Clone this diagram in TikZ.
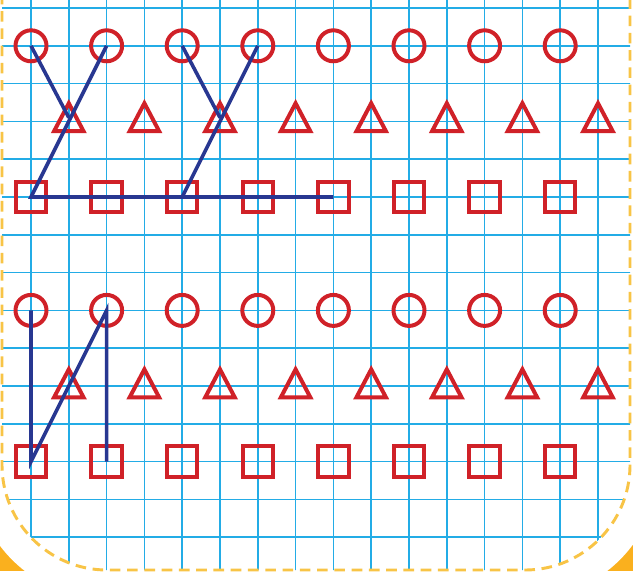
\documentclass[tikz,border=0pt]{standalone}
\usetikzlibrary{calc}
\definecolor{gridblue}{RGB}{35,172,230}
\definecolor{shapered}{RGB}{208,33,40}
\definecolor{stitchblue}{RGB}{40,55,145}
\definecolor{dashyellow}{RGB}{248,196,70}
\definecolor{cornerorange}{RGB}{250,176,30}

\begin{document}
\begin{tikzpicture}[
    ring/.style={circle, draw=shapered, line width=3pt, minimum size=0.82cm, inner sep=0pt},
    box/.style={rectangle, draw=shapered, line width=3pt, minimum size=0.8cm, inner sep=0pt},
    tri/.style={draw=shapered, line width=3pt},
    stitch/.style={draw=stitchblue, line width=2.7pt},
    gridline/.style={draw=gridblue, line width=1.3pt}]
    \useasboundingbox (-0.820,-0.900) rectangle (15.926,14.212);

    % card on the orange background
    \fill[cornerorange] (-0.820,-0.900) rectangle (15.926,14.212);
    \fill[white, rounded corners=3.55cm] (-1.537,-1.638) rectangle (16.617,17);

    \begin{scope}
        \clip[rounded corners=2.78cm] (-0.767,-0.868) rectangle (15.847,17);
        \draw[gridline] (-1,-1) grid (16,15);
    \end{scope}
    \draw[dashyellow, line width=2.2pt, dash pattern=on 8pt off 5pt, rounded corners=2.78cm]
        (15.847,17) -- (15.847,-0.868) -- (-0.767,-0.868) -- (-0.767,17);

    % upper and lower rows: circle, triangle, square
    \foreach \i in {0,...,7} {
        \node[ring] (c1-\i) at (2*\i,13) {};
        \coordinate (t1-\i) at (2*\i+1,11.1);
        \draw[tri, shift={(t1-\i)}] (0,0.38) -- (-0.39,-0.36) -- (0.39,-0.36) -- cycle;
        \node[box] (s1-\i) at (2*\i,9) {};

        \node[ring] (c2-\i) at (2*\i,6) {};
        \coordinate (t2-\i) at (2*\i+1,4.06);
        \draw[tri, shift={(t2-\i)}] (0,0.38) -- (-0.39,-0.36) -- (0.39,-0.36) -- cycle;
        \node[box] (s2-\i) at (2*\i,2) {};
    }

    \draw[stitch] (c1-0.center) -- (t1-0);
    \draw[stitch] (c1-1.center) -- (s1-0.center) -- (s1-4.center);
    \draw[stitch] (c1-2.center) -- (t1-2);
    \draw[stitch] (c1-3.center) -- (s1-2.center);

    \draw[stitch] (c2-0.center) -- (s2-0.center) -- (c2-1.center) -- (s2-1.center);
\end{tikzpicture}
\end{document}
